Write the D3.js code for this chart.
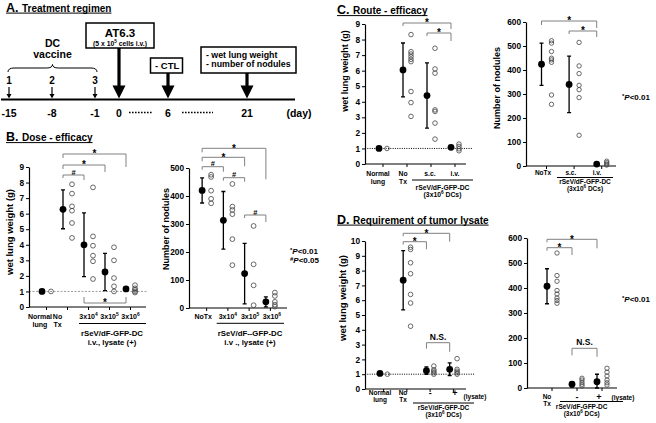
<!DOCTYPE html>
<html><head><meta charset="utf-8">
<script src="https://cdn.jsdelivr.net/npm/d3@7"></script>
<style>body{margin:0;background:#fff}svg{display:block}</style>
</head><body><svg id="c" width="656" height="423"></svg>
<script>
// ================= DATA =================
// Panel A: treatment regimen timeline
const timelineDays = [-15, -8, -1, 0, 6, 21];
const vaccineDays = [-15, -8, -1];
const vaccineDoses = ["1", "2", "3"];

// Panel B: dose - efficacy (wet lung weight, g)
const bWeightCats = ["Normal\nlung", "No\nTx", "3x10^4", "3x10^5", "3x10^6"];
const bWeightMean = [1.0, 6.28, 4.0, 2.25, 1.16];
const bWeightSD = [0, 1.25, 2.05, 1.2, 0.1];
const bWeightDots = [[1.0], [7.89, 7.29, 6.47, 6.19, 5.4, 4.44], [7.69, 4.54, 3.94, 3.3, 2.94, 1.8], [3.84, 3.0, 1.86, 1.33, 1.0], [1.4, 1.2, 1.1, 1.0, 0.93]];
const bWeightTicks = [0, 1, 2, 3, 4, 5, 6, 7, 8, 9];
const bWeightBrackets = [[1, 4, "*"], [1, 3, "*"], [1, 2, "#"], [2, 4, "*"]];

// Panel B: dose - efficacy (number of nodules)
const bNodCats = ["NoTx", "3x10^4", "3x10^5", "3x10^6"];
const bNodMean = [420, 313, 123, 22];
const bNodSD = [45, 103, 108, 18];
const bNodDots = [[476, 468, 419, 390, 374], [443, 362, 350, 335, 246, 153], [293, 156, 81, 10], [55, 43, 22, 12, 5]];
const bNodTicks = [0, 100, 200, 300, 400, 500];
const bNodBrackets = [[0, 3, "*"], [0, 2, "*"], [0, 1, "#"], [1, 2, "#"], [2, 3, "#"]];

// Panel C: route - efficacy (wet lung weight)
const cWeightCats = ["Normal\nlung", "No\nTx", "s.c.", "i.v."];
const cWeightMean = [1.0, 6.05, 4.4, 1.07];
const cWeightSD = [0, 1.73, 2.1, 0.08];
const cWeightDots = [[1.0], [8.32, 7.22, 7.07, 6.9, 6.73, 6.58, 4.66, 3.95, 3.06], [7.44, 6.11, 5.84, 3.48, 3.38, 2.63, 1.6], [1.28, 1.13, 0.98, 0.85]];
const cWeightTicks = [0, 1, 2, 3, 4, 5, 6, 7, 8, 9];
const cWeightBrackets = [[1, 3, "*"], [2, 3, "*"]];

// Panel C: route - efficacy (number of nodules)
const cNodCats = ["NoTx", "s.c.", "i.v."];
const cNodMean = [424, 340, 8];
const cNodSD = [88, 118, 5];
const cNodDots = [[522, 512, 477, 449, 442, 432, 296, 257], [515, 417, 385, 336, 318, 285, 128], [20, 14, 8, 4]];
const cNodTicks = [0, 100, 200, 300, 400, 500, 600];
const cNodBrackets = [[0, 2, "*"], [1, 2, "*"]];

// Panel D: requirement of tumor lysate (wet lung weight)
const dWeightCats = ["Normal\nlung", "No\nTx", "-", "+"];
const dWeightMean = [1.05, 7.35, 1.24, 1.33];
const dWeightSD = [0, 2.0, 0.25, 0.43];
const dWeightDots = [[1.0], [9.58, 9.43, 8.53, 7.79, 6.39, 5.81, 4.24], [1.55, 1.3, 1.2, 1.1, 1.0], [2.05, 1.33, 1.2, 1.1, 1.0]];
const dWeightTicks = [0, 1, 2, 3, 4, 5, 6, 7, 8, 9, 10];
const dWeightBrackets = [[1, 3, "*"], [1, 2, "*"], [2, 3, "N.S."]];

// Panel D: requirement of tumor lysate (number of nodules)
const dNodCats = ["No\nTx", "-", "+"];
const dNodMean = [407, 15, 25];
const dNodSD = [70, 10, 30];
const dNodDots = [[540, 450, 427, 390, 376, 360, 350, 339], [39, 32, 23, 15, 8], [79, 63, 48, 32, 21, 12]];
const dNodTicks = [0, 100, 200, 300, 400, 500, 600];
const dNodBrackets = [[0, 2, "*"], [0, 1, "*"], [1, 2, "N.S."]];

// ================= DRAWING =================
const FONT = "'Liberation Sans', Arial, Helvetica, sans-serif";
const svg = d3.select("#c").attr("font-family", FONT).attr("font-weight", "bold");
svg.append("rect").attr("width", 656).attr("height", 423).attr("fill", "#fff");

function rich(t, str, fs) {
  const parts = str.split(/\^(\w+)/);
  parts.forEach((p, i) => {
    if (!p) return;
    if (i % 2 === 1) t.append("tspan").attr("font-size", fs * 0.7).attr("dy", -fs * 0.4).text(p);
    else { const s = t.append("tspan").text(p); if (i > 0) s.attr("dy", fs * 0.4); }
  });
  return t;
}
function txt(x, y, s, fs, anchor) {
  const t = svg.append("text").attr("x", x).attr("y", y).attr("font-size", fs)
    .attr("text-anchor", anchor || "middle").attr("fill", "#000");
  return rich(t, s, fs);
}
function title(x, y, letter, rest) {
  const t = svg.append("text").attr("x", x).attr("y", y).attr("fill", "#000");
  t.append("tspan").attr("font-size", 12.5).text(letter);
  t.append("tspan").attr("font-size", 10).text(rest);
  const w = t.node().getComputedTextLength();
  svg.append("line").attr("x1", x).attr("x2", x + w).attr("y1", y + 1.6).attr("y2", y + 1.6)
    .attr("stroke", "#000").attr("stroke-width", 1);
}
function yLabel(x, y, s, fs) {
  svg.append("text").attr("transform", `translate(${x},${y}) rotate(-90)`).attr("text-anchor", "middle")
    .attr("dy", "0.35em").attr("font-size", fs).attr("fill", "#000").text(s);
}
function legend(x, y, sym, rest) {
  const t = svg.append("text").attr("x", x).attr("y", y).attr("font-size", 8).attr("fill", "#000");
  t.append("tspan").attr("font-size", 6).attr("dy", -2.5).text(sym);
  t.append("tspan").attr("font-style", "italic").attr("dy", 2.5).text("P");
  t.append("tspan").text(rest);
}

function panel(o) {
  const g = svg.append("g");
  const y = d3.scaleLinear().domain(o.domain).range(o.yRange);
  const x = d3.scaleBand().domain(o.cats).range(o.xRange);
  const c = i => x(o.cats[i]) + x.bandwidth() / 2;
  const mx = i => c(i) - o.off, dx = i => c(i) + o.off;

  if (o.ref) g.append("line").attr("x1", o.ax).attr("x2", o.ref.x2).attr("y1", y(1)).attr("y2", y(1))
    .attr("stroke", o.ref.color).attr("stroke-width", o.ref.w).attr("stroke-dasharray", o.ref.dash);

  const ya = g.append("g").attr("transform", `translate(${o.ax},0)`)
    .call(d3.axisLeft(y).tickValues(o.ticks).tickSize(3).tickSizeOuter(0).tickPadding(2).tickFormat(d3.format("d")));
  ya.attr("font-family", FONT).attr("font-size", o.tickFs || 8.3).attr("font-weight", "bold");
  ya.select(".domain").attr("stroke-width", 1.2);
  ya.selectAll("text").attr("fill", "#000");

  g.append("line").attr("x1", o.ax).attr("x2", o.axEnd).attr("y1", y(0)).attr("y2", y(0))
    .attr("stroke", "#000").attr("stroke-width", 1.2);
  const xa = g.append("g").attr("transform", `translate(0,${y(0)})`)
    .call(d3.axisBottom(x).tickSize(3).tickFormat(""));
  xa.select(".domain").remove();

  o.cats.forEach((cat, i) => {
    if (o.sd[i] > 0) {
      const top = y(o.means[i] + o.sd[i]), bot = y(Math.max(0, o.means[i] - o.sd[i]));
      g.append("path").attr("d", `M${mx(i)},${top}V${bot}M${mx(i) - 2},${top}H${mx(i) + 2}M${mx(i) - 2},${bot}H${mx(i) + 2}`)
        .attr("stroke", "#000").attr("stroke-width", 1.3).attr("fill", "none");
    }
    g.append("circle").attr("cx", mx(i)).attr("cy", y(o.means[i])).attr("r", 3.4).attr("fill", "#000");
    g.selectAll(null).data(o.dots[i]).join("circle")
      .attr("cx", dx(i)).attr("cy", d => y(d)).attr("r", o.r || 2.4)
      .attr("fill", "none").attr("stroke", "#444").attr("stroke-width", 0.8);
  });

  // category labels
  o.cats.forEach((cat, i) => {
    const lines = cat.split("\n");
    const fs = (cat === "-" || cat === "+") ? 9 : o.labelFs;
    lines.forEach((l, k) => txt(c(i) + o.labelDx[i], o.labelRows[k] + (fs > o.labelFs ? 0.5 : 0), l, fs));
  });

  // significance brackets
  o.brackets.forEach((b, i) => {
    const L = o.levels[i];
    const x1 = mx(b[0]), x2 = mx(b[1]);
    const s = L.up ? -1 : 1;
    g.append("path").attr("d", `M${x1},${L.y + s * L.dl}V${L.y}H${x2}V${L.y + s * L.dr}`)
      .attr("fill", "none").attr("stroke", "#808080").attr("stroke-width", 1);
    const cxm = (x1 + x2) / 2;
    if (b[2] === "*") txt(cxm, L.y + 3.2, "*", 10);
    else if (b[2] === "#") txt(cxm, L.y - 0.3, "#", 7.5);
    else txt(cxm, L.y - 3, b[2], 8.5);
  });
  return { x, y, c, mx };
}

// ---------- Panel A ----------
title(6, 11.5, "A. ", "Treatment regimen");
const tl = d3.scaleLinear().domain(timelineDays).range([9, 52, 95, 119, 168, 247]);
svg.append("line").attr("x1", 1).attr("x2", 295).attr("y1", 99.5).attr("y2", 99.5).attr("stroke", "#000").attr("stroke-width", 2);
timelineDays.forEach(d => txt(tl(d), 116.5, String(d), 10.5));
txt(299, 116.5, "(day)", 10.5);
[[tl(0) + 10, tl(6) - 15], [tl(6) + 14, tl(21) - 34]].forEach(([a, b]) =>
  svg.append("line").attr("x1", a).attr("x2", b).attr("y1", 112.5).attr("y2", 112.5)
    .attr("stroke", "#000").attr("stroke-width", 1.6).attr("stroke-dasharray", "1.6,1.4"));
vaccineDays.forEach((d, i) => {
  const x = tl(d);
  svg.append("line").attr("x1", x).attr("x2", x).attr("y1", 87).attr("y2", 95).attr("stroke", "#000").attr("stroke-width", 1.2);
  svg.append("path").attr("d", `M${x - 2.5},94L${x + 2.5},94L${x},98.5Z`).attr("fill", "#000");
  txt(x, 84, vaccineDoses[i], 10);
});
{
  const a = tl(-15) - 1, b = tl(-1) + 2, m = (a + b) / 2;
  svg.append("path").attr("d", `M${a},72Q${a},68 ${a + 6},68L${m - 6},68Q${m},68 ${m},64.5Q${m},68 ${m + 6},68L${b - 6},68Q${b},68 ${b},72`)
    .attr("fill", "none").attr("stroke", "#000").attr("stroke-width", 1);
  txt(m, 47.3, "DC", 10.5);
  txt(m, 58.3, "vaccine", 10.5);
}
function bigArrow(x, y1, y2) {
  svg.append("rect").attr("x", x - 1.6).attr("y", y1).attr("width", 3.2).attr("height", y2 - 13 - y1 + 1).attr("fill", "#000");
  svg.append("path").attr("d", `M${x - 6.5},${y2 - 13}L${x + 6.5},${y2 - 13}L${x},${y2}Z`).attr("fill", "#000");
}
function box(x, y, w, h) {
  svg.append("rect").attr("x", x).attr("y", y).attr("width", w).attr("height", h)
    .attr("fill", "#fff").attr("stroke", "#000").attr("stroke-width", 1.5);
}
box(86, 23, 68, 25);
txt(120, 37, "AT6.3", 11.5);
txt(120, 45.5, "(5 x 10^5 cells i.v.)", 6.8);
bigArrow(tl(0), 48, 98.5);
box(150.5, 58, 32, 15);
txt(151 + 4, 68.5, "- CTL", 9.5, "start");
bigArrow(tl(6), 73, 98.5);
box(201, 47, 95, 26);
txt(206, 57.5, "- wet lung weight", 8.8, "start");
txt(206, 67, "- number of nodules", 8.8, "start");
bigArrow(tl(21), 73, 98.5);

// ---------- Panel B ----------
title(6, 141, "B. ", "Dose - efficacy");
panel({
  ax: 29, axEnd: 146, yRange: [307, 167], domain: [0, 9], ticks: bWeightTicks, xRange: [36, 141], off: 4.5,
  cats: bWeightCats, means: bWeightMean, sd: bWeightSD, dots: bWeightDots,
  ref: { x2: 148, color: "#999", w: 1, dash: "2,1.5" },
  labelDx: [-6.5, -10, 0, 0, 0], labelRows: [319, 327], labelFs: 7,
  brackets: bWeightBrackets,
  levels: [{ y: 154, dl: 4, dr: 13 }, { y: 165, dl: 4, dr: 7 }, { y: 175, dl: 3, dr: 5 }, { y: 303, dl: 6, dr: 6, up: true }]
});
yLabel(10, 232, "wet lung weight (g)", 9.5);
svg.append("line").attr("x1", 79).attr("x2", 146).attr("y1", 323.5).attr("y2", 323.5).attr("stroke", "#000").attr("stroke-width", 1);
txt(112, 335.5, "rSeV/dF-GFP-DC", 7.8);
txt(112, 344.5, "i.v., lysate (+)", 7.8);

panel({
  ax: 189, axEnd: 287, yRange: [308, 168], domain: [0, 500], ticks: bNodTicks, xRange: [196, 281], off: 4.5,
  cats: bNodCats, means: bNodMean, sd: bNodSD, dots: bNodDots,
  labelDx: [-3.5, 0, 1, 1.5], labelRows: [319], labelFs: 7,
  brackets: bNodBrackets,
  levels: [{ y: 148.3, dl: 4, dr: 31 }, { y: 157.3, dl: 4, dr: 9 }, { y: 166.7, dl: 3, dr: 5 }, { y: 177.7, dl: 3, dr: 4 }, { y: 215, dl: 3, dr: 7 }]
});
yLabel(166, 229, "Number of nodules", 9);
svg.append("line").attr("x1", 216.7).attr("x2", 284).attr("y1", 323.3).attr("y2", 323.3).attr("stroke", "#000").attr("stroke-width", 1);
txt(250, 335.5, "rSeV/dF--GFP-DC", 7.8);
txt(250, 344.5, "i.v ., lysate (+)", 7.8);
legend(290, 254, "*", "<0.01");
legend(290, 263, "#", "<0.05");

// ---------- Panel C ----------
title(337, 14, "C. ", "Route - efficacy");
panel({
  ax: 365, axEnd: 466, yRange: [164, 24], domain: [0, 9], ticks: cWeightTicks, xRange: [371, 467], off: 4,
  cats: cWeightCats, means: cWeightMean, sd: cWeightSD, dots: cWeightDots, r: 2.3,
  ref: { x2: 473, color: "#000", w: 1, dash: "1,1.3" },
  labelDx: [-5, -4, -1, 0], labelRows: [175.5, 184], labelFs: 6.8,
  brackets: cWeightBrackets,
  levels: [{ y: 23, dl: 3, dr: 6 }, { y: 33, dl: 3, dr: 8 }]
});
yLabel(345, 71, "wet lung weight (g)", 9);
svg.append("line").attr("x1", 412).attr("x2", 473).attr("y1", 180).attr("y2", 180).attr("stroke", "#000").attr("stroke-width", 1);
txt(442.5, 189.5, "rSeV/dF-GFP-DC", 6.8);
txt(442.5, 196.5, "(3x10^6 DCs)", 6.8);

panel({
  ax: 526, axEnd: 616, yRange: [166, 22], domain: [0, 600], ticks: cNodTicks, xRange: [532.7, 615.5], off: 5,
  cats: cNodCats, means: cNodMean, sd: cNodSD, dots: cNodDots, r: 2.2,
  labelDx: [-3.5, -3.3, -4.7], labelRows: [174.5], labelFs: 6.5,
  brackets: cNodBrackets,
  levels: [{ y: 21, dl: 4, dr: 7 }, { y: 31, dl: 3, dr: 6 }]
});
yLabel(497, 88, "Number of nodules", 9);
svg.append("line").attr("x1", 557).attr("x2", 613).attr("y1", 177.5).attr("y2", 177.5).attr("stroke", "#000").attr("stroke-width", 1);
txt(585, 184, "rSeV/dF-GFP-DC", 6.5);
txt(585, 190.5, "(3x10^6 DCs)", 6.5);
legend(622, 100, "*", "<0.01");

// ---------- Panel D ----------
title(337, 223.5, "D. ", "Requirement of tumor lysate");
panel({
  ax: 365, axEnd: 466, yRange: [389, 241], domain: [0, 10], ticks: dWeightTicks, xRange: [372, 465], off: 3.7,
  cats: dWeightCats, means: dWeightMean, sd: dWeightSD, dots: dWeightDots, r: 2.3,
  ref: { x2: 475, color: "#000", w: 1, dash: "1,1.3" },
  labelDx: [-3.6, -3.9, 0, 1.6], labelRows: [395, 402], labelFs: 6.5,
  brackets: dWeightBrackets,
  levels: [{ y: 233.3, dl: 3, dr: 8.4 }, { y: 241.7, dl: 3, dr: 7.6 }, { y: 342.7, dl: 6, dr: 9 }]
});
yLabel(343, 298, "wet lung weight (g)", 9.5);
txt(475, 398.5, "(lysate)", 6.5);
svg.append("line").attr("x1", 413).attr("x2", 474).attr("y1", 403).attr("y2", 403).attr("stroke", "#000").attr("stroke-width", 1);
txt(443.5, 410, "rSeV/dF-GFP-DC", 6.5);
txt(443.5, 416.5, "(3x10^6 DCs)", 6.5);

panel({
  ax: 527, axEnd: 617, yRange: [388, 238], domain: [0, 600], ticks: dNodTicks, xRange: [539.5, 614.5], off: 5, r: 2.2,
  cats: dNodCats, means: dNodMean, sd: dNodSD, dots: dNodDots,
  labelDx: [-5, 0, -3], labelRows: [399, 405.5], labelFs: 6.5,
  brackets: dNodBrackets,
  levels: [{ y: 239.3, dl: 3, dr: 9 }, { y: 247.7, dl: 3, dr: 7.3 }, { y: 348.3, dl: 7, dr: 8.4 }]
});
txt(623, 399.5, "(lysate)", 6.5);
svg.append("line").attr("x1", 560).attr("x2", 623).attr("y1", 401.5).attr("y2", 401.5).attr("stroke", "#000").attr("stroke-width", 1);
txt(581.7, 409, "rSeV/dF-GFP-DC", 6.5);
txt(581.7, 415.5, "(3x10^6 DCs)", 6.5);
legend(622, 302, "*", "<0.01");
</script></body></html>
